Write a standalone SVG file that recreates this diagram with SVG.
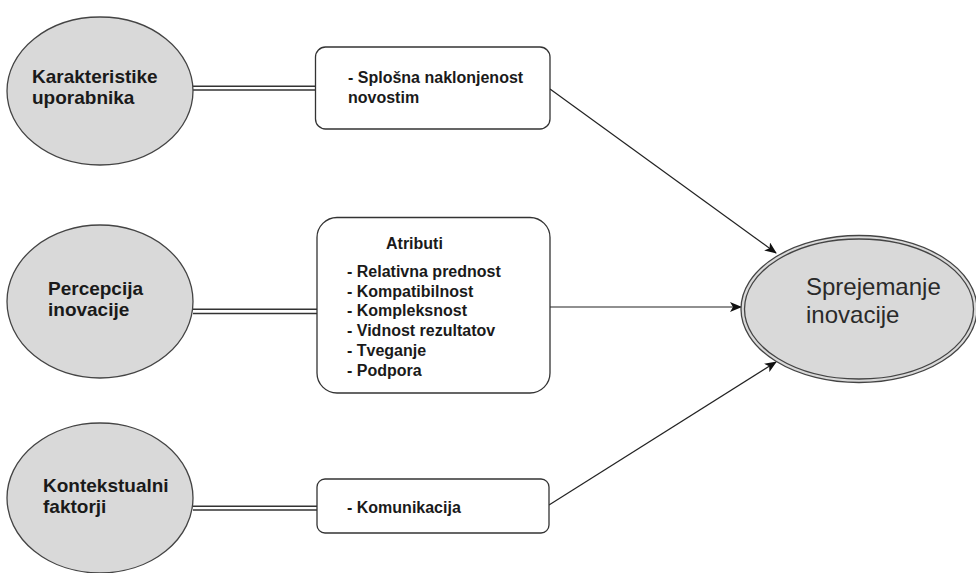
<svg xmlns="http://www.w3.org/2000/svg" width="976" height="573" viewBox="0 0 976 573">
<style>
.src{fill:#d9d9d9;stroke:#444;stroke-width:1.3}
.box{fill:#fff;stroke:#333;stroke-width:1.3}
.lbl{font-family:"Liberation Sans",Arial,sans-serif;font-weight:bold;font-size:19px;fill:#1a1a1a}
.bt{font-family:"Liberation Sans",Arial,sans-serif;font-weight:bold;font-size:16px;fill:#1a1a1a}
.tt{font-family:"Liberation Sans",Arial,sans-serif;font-size:24px;fill:#2a2a2a}
.dbl{stroke:#333;stroke-width:1.4;fill:none}
.arr{stroke:#222;stroke-width:1.2;fill:none;marker-end:url(#ah)}
</style>
<defs>
<marker id="ah" viewBox="0 0 12 10" refX="11" refY="5" markerWidth="12" markerHeight="10" markerUnits="userSpaceOnUse" orient="auto">
<path d="M0,0 L12,5 L0,10 L3,5 Z" fill="#111"/>
</marker>
</defs>
<rect width="976" height="573" fill="#fff"/>
<g id="connectors">
<line class="dbl" x1="193" y1="86.3" x2="316" y2="86.3"/>
<line class="dbl" x1="193" y1="90" x2="316" y2="90"/>
<line class="dbl" x1="193" y1="309.3" x2="317" y2="309.3"/>
<line class="dbl" x1="193" y1="313.5" x2="317" y2="313.5"/>
<line class="dbl" x1="193" y1="506.3" x2="317" y2="506.3"/>
<line class="dbl" x1="193" y1="510" x2="317" y2="510"/>
<line class="arr" x1="550" y1="89" x2="776" y2="253"/>
<line class="arr" x1="550" y1="307" x2="741" y2="307"/>
<line class="arr" x1="549" y1="505" x2="776" y2="362"/>
</g>
<g id="karakteristike">
<ellipse class="src" cx="100" cy="91" rx="93" ry="74"/>
<text class="lbl" x="32" y="83">Karakteristike</text>
<text class="lbl" x="32" y="104">uporabnika</text>
</g>
<g id="percepcija">
<ellipse class="src" cx="100" cy="301.5" rx="93" ry="76.5"/>
<text class="lbl" x="48" y="295">Percepcija</text>
<text class="lbl" x="48" y="316">inovacije</text>
</g>
<g id="kontekstualni">
<ellipse class="src" cx="100" cy="498" rx="93" ry="75"/>
<text class="lbl" x="43" y="492">Kontekstualni</text>
<text class="lbl" x="43" y="513">faktorji</text>
</g>
<g id="splosna">
<rect class="box" x="315.5" y="47" width="234.5" height="82" rx="10"/>
<text class="bt" x="348" y="83">- Splošna naklonjenost</text>
<text class="bt" x="348" y="103">novostim</text>
</g>
<g id="atributi">
<rect class="box" x="317" y="217.5" width="233" height="175.5" rx="20"/>
<text class="bt" x="386" y="249">Atributi</text>
<text class="bt" x="347" y="277">- Relativna prednost</text>
<text class="bt" x="347" y="297">- Kompatibilnost</text>
<text class="bt" x="347" y="316">- Kompleksnost</text>
<text class="bt" x="347" y="336">- Vidnost rezultatov</text>
<text class="bt" x="347" y="356">- Tveganje</text>
<text class="bt" x="347" y="376">- Podpora</text>
</g>
<g id="komunikacija">
<rect class="box" x="317" y="479" width="232" height="54" rx="8"/>
<text class="bt" x="347" y="513">- Komunikacija</text>
</g>
<g id="sprejemanje">
<ellipse cx="859" cy="309" rx="118" ry="73.5" fill="#d9d9d9" stroke="#444" stroke-width="1.3"/>
<ellipse cx="859" cy="309" rx="114.5" ry="70" fill="none" stroke="#444" stroke-width="1.3"/>
<text class="tt" x="806" y="295">Sprejemanje</text>
<text class="tt" x="806" y="323">inovacije</text>
</g>
</svg>
